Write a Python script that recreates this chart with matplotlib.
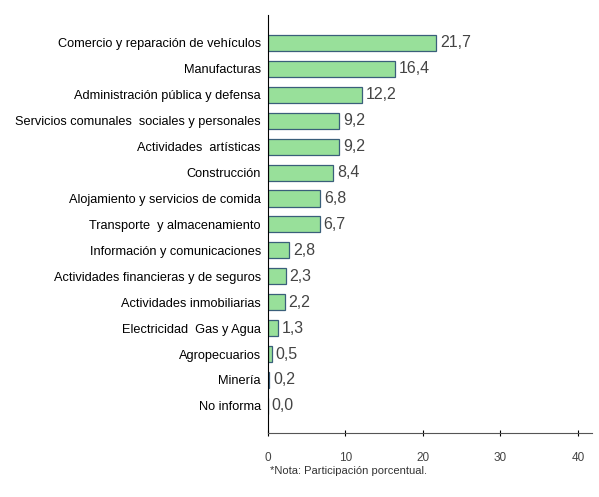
import matplotlib
matplotlib.use("Agg")
import matplotlib.pyplot as plt

plt.rcParams['font.family'] = ['Liberation Sans', 'DejaVu Sans']

categories = ['Comercio y reparación de vehículos', 'Manufacturas', 'Administración pública y defensa',
              'Servicios comunales  sociales y personales', 'Actividades  artísticas', 'Construcción',
              'Alojamiento y servicios de comida', 'Transporte  y almacenamiento', 'Información y comunicaciones',
              'Actividades financieras y de seguros', 'Actividades inmobiliarias', 'Electricidad  Gas y Agua',
              'Agropecuarios', 'Minería', 'No informa']
values = [21.7, 16.4, 12.2, 9.2, 9.2, 8.4, 6.8, 6.7, 2.8, 2.3, 2.2, 1.3, 0.5, 0.2, 0.0]
ticks = [0, 10, 20, 30, 40]

fig = plt.figure(figsize=(5.99, 4.97), dpi=100)
ax = fig.add_axes([0.447, 0.129, 0.541, 0.841])
pos = list(range(len(categories)))
ax.barh(pos, values, height=0.62, color='#98e09a', edgecolor='#3a5f7a', linewidth=0.9)
for p, v in zip(pos, values):
    ax.text(v + 0.5, p, f'{v:.1f}'.replace('.', ','), va='center', ha='left', fontsize=11.5, color='#444444')
ax.set_ylim(15.04, -1.08)
ax.set_xlim(0, 41.8)
ax.set_yticks(pos)
ax.set_yticklabels(categories, fontsize=9.2)
ax.set_xticks(ticks)
ax.set_xticklabels([str(t) for t in ticks], fontsize=8.5, color='#444444')
ax.tick_params(axis='y', length=0, pad=5)
ax.tick_params(axis='x', length=4, direction='inout', pad=12)
for s in ['top', 'right']:
    ax.spines[s].set_visible(False)
ax.spines['left'].set_color('black')
ax.spines['bottom'].set_color('#555555')
fig.text(270 / 599, 1 - 471 / 497, '*Nota: Participación porcentual.', fontsize=8, color='#333333', va='center')
fig.savefig('out.png', dpi=100)
